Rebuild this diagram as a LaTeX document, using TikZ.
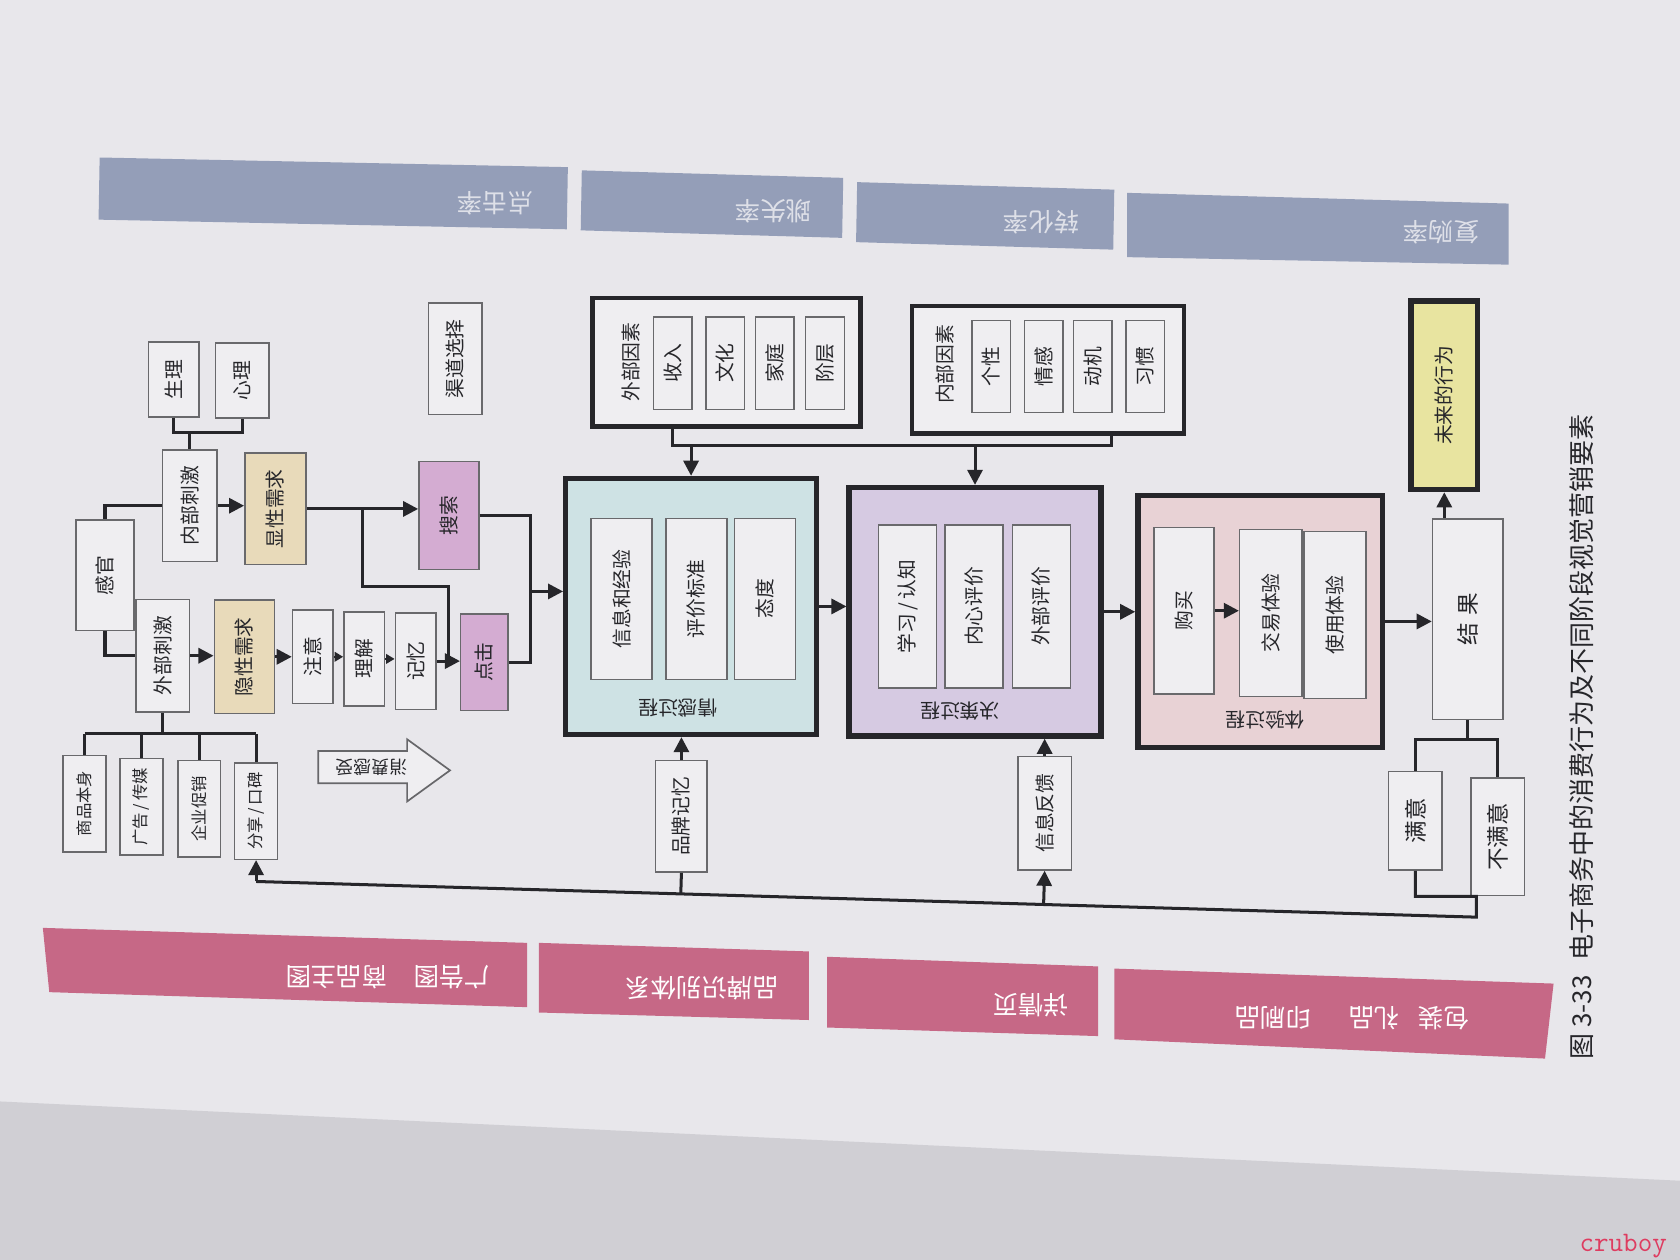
\documentclass[tikz,border=0pt]{standalone}
\usepackage{fontspec}
\setmainfont{Noto Sans CJK SC}
\usetikzlibrary{arrows.meta,calc}
\definecolor{pagebg}{RGB}{232,231,235}
\definecolor{edgebg}{RGB}{208,207,212}
\definecolor{ink}{RGB}{38,38,42}
\definecolor{rim}{RGB}{105,105,108}
\definecolor{cellbg}{RGB}{239,238,241}
\definecolor{tanbg}{RGB}{232,218,186}
\definecolor{lilac}{RGB}{212,172,210}
\definecolor{tealbg}{RGB}{206,226,228}
\definecolor{purpbg}{RGB}{214,202,226}
\definecolor{pinkbg}{RGB}{232,210,213}
\definecolor{yelbg}{RGB}{232,228,160}
\definecolor{bandblue}{RGB}{148,158,184}
\definecolor{bluetxt}{RGB}{222,224,232}
\definecolor{bandpink}{RGB}{198,104,134}
\definecolor{wmred}{RGB}{222,60,96}
\newcommand\rotup[1]{\rotatebox{90}{#1}}
\newcommand\rotdn[1]{\rotatebox{180}{#1}}
\begin{document}
\begin{tikzpicture}[x=0.02cm, y=-0.02cm,
    every node/.style={inner sep=0pt, text=ink, font=\fontsize{10.5pt}{12pt}\selectfont},
    sz/.style 2 args={minimum width=#1*0.02cm, minimum height=#2*0.02cm},
    cell/.style={draw=rim, line width=0.8pt, fill=cellbg},
    heavy/.style={draw=ink, line width=2.8pt},
    wire/.style={draw=ink, line width=1.6pt},
    arr/.style={wire, -{Triangle[length=8pt,width=8pt]}},
    smallarr/.style={wire, line width=1.2pt, -{Triangle[length=4.5pt,width=5pt]}},
    smalltxt/.style={font=\fontsize{8.7pt}{10pt}\selectfont},
    bigtxt/.style={font=\fontsize{12pt}{14pt}\selectfont},
    bandtxt/.style={text=white, font=\fontsize{13.5pt}{15pt}\selectfont}]
\useasboundingbox (0,0) rectangle (1568,1176);
\fill[pagebg] (0,0) rectangle (1568,1176);
\fill[edgebg] (0,1028) -- (1568,1102) -- (1568,1176) -- (0,1176) -- cycle;

\fill[bandblue] (93,147) -- (530,156) -- (529,214) -- (92,205) -- cycle;
\fill[bandblue] (543,159) -- (787,166) -- (786,222) -- (542,215) -- cycle;
\fill[bandblue] (800,170) -- (1040,177) -- (1039,233) -- (799,226) -- cycle;
\fill[bandblue] (1052,180) -- (1408,190) -- (1408,247) -- (1052,240) -- cycle;
\fill[bandpink] (40,866) -- (492,880) -- (492,940) -- (46,926) -- cycle;
\fill[bandpink] (503,880) -- (755,888) -- (755,952) -- (503,945) -- cycle;
\fill[bandpink] (772,893) -- (1025,902) -- (1025,967) -- (772,959) -- cycle;
\fill[bandpink] (1040,904) -- (1450,918) -- (1442,988) -- (1040,970) -- cycle;
\node[bandtxt, text=bluetxt] (r1) at (462,190) {\rotdn{点击率}};
\node[bandtxt, text=bluetxt] (r2) at (722,197) {\rotdn{跳失率}};
\node[bandtxt, text=bluetxt] (r3) at (972,207) {\rotdn{转化率}};
\node[bandtxt, text=bluetxt] (r4) at (1345,217) {\rotdn{复购率}};
\node[bandtxt] (v1) at (362,912) {\rotdn{广告图\hspace{14pt}商品主图}};
\node[bandtxt] (v2) at (655,922) {\rotdn{品牌识别体系}};
\node[bandtxt] (v3) at (962,938) {\rotdn{详情页}};
\node[bandtxt] (v4) at (1262,950) {\rotdn{包装\hspace{10pt}礼品\hspace{20pt}印刷品}};

\node[cell, sz={47}{70}] (sl) at (162,354) {\rotup{生理}};
\node[cell, sz={50}{70}] (xl) at (226,355) {\rotup{心理}};
\node[cell, sz={51}{104}] (ncj) at (177,472) {\rotup{内部刺激}};
\node[cell, fill=tanbg, sz={57}{104}] (xxq) at (257,475) {\rotup{显性需求}};
\node[cell, sz={54}{103}] (gg) at (98,537) {\rotup{感官}};
\node[cell, sz={50}{105}] (wcj) at (152,612) {\rotup{外部刺激}};
\node[cell, fill=tanbg, sz={56}{106}] (yxq) at (228,613) {\rotup{隐性需求}};
\node[cell, sz={38}{87}] (zy) at (292,613) {\rotup{注意}};
\node[cell, sz={38}{88}] (lj) at (340,615) {\rotup{理解}};
\node[cell, sz={38}{90}] (jy) at (388,617) {\rotup{记忆}};
\node[cell, fill=lilac, sz={44}{90}] (dj) at (452,618) {\rotup{点击}};
\node[cell, fill=lilac, sz={56}{101}] (ss) at (419,481) {\rotup{搜索}};
\node[cell, sz={50}{104}] (qd) at (425,335) {\rotup{渠道选择}};
\foreach \n/\t/\x/\y in {sp/商品本身/79/750, gc/{广告\,/\,传媒}/132/753, cx/企业促销/186/755, fx/{分享\,/\,口碑}/239/757}
    \node[cell, smalltxt, sz={40}{90}] (\n) at (\x,\y) {\rotup{\t}};
\draw[ink!70, line width=0.9pt, fill=cellbg] (297,701) -- (380,701) -- (380,690) -- (420,719) -- (380,748) -- (380,731) -- (297,731) -- cycle;
\node[font=\fontsize{9.5pt}{10pt}\selectfont] (xfgs) at (347,716) {\rotdn{消费感受}};

\node[heavy, line width=2.3pt, fill=cellbg, sz={250}{120}] (wbys) at (678,338) {};
\node (wbl) at (589,338) {\rotup{外部因素}};
\foreach \n/\t/\x in {sr/收入/628, wh/文化/677, jt/家庭/723, jc/阶层/770}
    \node[cell, sz={36}{86}] (\n) at (\x,339) {\rotup{\t}};
\node[heavy, line width=2.3pt, fill=cellbg, sz={254}{119}] (nbys) at (978,345) {};
\node (nbl) at (882,340) {\rotup{内部因素}};
\foreach \n/\t/\x in {gx/个性/925, qgan/情感/974, dj2/动机/1020, xg/习惯/1069}
    \node[cell, sz={36}{86}] (\n) at (\x,342) {\rotup{\t}};

\node[heavy, fill=tealbg, sz={234}{239}] (qg) at (645,566) {};
\foreach \n/\t/\x in {xxjy/信息和经验/580, pjbz/评价标准/650, td/态度/714}
    \node[cell, sz={57}{150}] (\n) at (\x,559) {\rotup{\t}};
\node (qgl) at (633,661) {\rotdn{情感过程}};
\node[heavy, fill=purpbg, sz={235}{232}] (jcg) at (910,571) {};
\foreach \n/\t/\x in {xxrz/{学习\,/\,认知}/847, nxpj/内心评价/909, wbpj/外部评价/972}
    \node[cell, sz={54}{152}] (\n) at (\x,566) {\rotup{\t}};
\node (jcl) at (896,664) {\rotdn{决策过程}};
\node[heavy, fill=pinkbg, sz={228}{235}] (ty) at (1176,580) {};
\node[cell, sz={56}{155}] (gm) at (1105,570) {\rotup{购买}};
\node[cell, sz={58}{156}] (jyty) at (1186,572) {\rotup{交易体验}};
\node[cell, sz={58}{156}] (syty) at (1246,574) {\rotup{使用体验}};
\node (tyl) at (1181,672) {\rotdn{体验过程}};

\node[cell, sz={48}{104}] (pp) at (636,762) {\rotup{品牌记忆}};
\node[cell, sz={50}{106}] (xxfk) at (975,759) {\rotup{信息反馈}};
\node[cell, bigtxt, sz={66}{187}] (jg) at (1370,578) {\rotup{结\hspace{4pt}果}};
\node[heavy, fill=yelbg, sz={62}{176}] (wl) at (1348,369) {\rotup{未来的行为}};
\node[cell, bigtxt, sz={50}{92}] (my) at (1321,766) {\rotup{满意}};
\node[cell, bigtxt, sz={50}{110}] (bmy) at (1398,781) {\rotup{不满意}};

\coordinate (br) at (177,404);
\draw[wire] (sl.south) |- (br) -| (xl.south);
\draw[wire] (br) -- (ncj.north);
\draw[wire] (gg.north) |- (ncj.west);
\draw[wire] (gg.south) |- (wcj.west);
\draw[arr] (ncj.east) -- (ncj.east -| xxq.west);
\draw[arr] (wcj.east) -- (wcj.east -| yxq.west);
\draw[arr] (yxq.east) -- (yxq.east -| zy.west);
\draw[smallarr] (zy.east) -- (zy.east -| lj.west);
\draw[smallarr] (lj.east) -- (lj.east -| jy.west);
\draw[arr] (jy.east) -- (jy.east -| dj.west);
\draw[arr] (xxq.east) -- (xxq.east -| ss.west);
\coordinate (brA) at ($(xxq.east)!0.5!(xxq.east -| ss.west)$);
\coordinate (brB) at ($(jy.east)!0.5!(dj.west)$);
\draw[wire] (brA) |- ($(brB)+(0,-70)$) -- (brB);
\coordinate (mg) at (495,552);
\draw[wire] (ss.east) -| (mg);
\draw[wire] (dj.east) -| (mg);
\draw[arr] (mg) -- (mg -| qg.west);
\coordinate (bus) at (0,685);
\draw[wire] (wcj.south) -- (wcj.south |- bus);
\draw[wire] (sp.north |- bus) -- (fx.north |- bus);
\foreach \n in {sp,gc,cx,fx}
    \draw[wire] (\n.north) -- (\n.north |- bus);

\coordinate (fb) at (0,416);
\coordinate (rs) at ($(dj2)!0.35!(xg)$);
\draw[wire] (wbys.south -| sr) -- (sr |- fb) -- (rs |- fb) -- (nbys.south -| rs);
\draw[arr] (qg.north |- fb) -- (qg.north);
\draw[arr] (jcg.north |- fb) -- (jcg.north);
\draw[arr] (qg.east) -- (qg.east -| jcg.west);
\draw[arr] (jcg.east) -- (jcg.east -| ty.west);
\draw[arr] (gm.east) -- (gm.east -| jyty.west);
\draw[arr] (ty.east) -- (ty.east -| jg.west);
\draw[arr] (jg.north -| wl.south) -- (wl.south);

\coordinate (jb) at ($(jg.south)+(0,18)$);
\draw[wire] (jg.south) -- (jb);
\draw[wire] (my.north) |- (jb) -| (bmy.north);
\coordinate (fbR) at (1378,856);
\coordinate (fbL) at ($(fx.south)+(0,20)$);
\draw[wire] (my.south) |- (fbR |- bmy.south) -- (fbR) -- (fbL);
\draw[arr] (fbL) -- (fx.south);
\draw[wire] (pp.south) -- ($(fbL)!(pp.south)!(fbR)$);
\draw[arr] (pp.north) -- (pp.north |- qg.south);
\draw[arr] ($(fbL)!(xxfk.south)!(fbR)$) -- (xxfk.south);
\draw[arr] (xxfk.north) -- (xxfk.north |- jcg.south);

\node[font=\fontsize{13.8pt}{15pt}\selectfont] (cap) at (1476,688) {\rotup{图 3-33\hspace{8pt}电子商务中的消费行为及不同阶段视觉营销要素}};
\node[text=wmred, font=\ttfamily\fontsize{15pt}{16pt}\selectfont] (wm) at (1515,1163) {cruboy};
\end{tikzpicture}
\end{document}
